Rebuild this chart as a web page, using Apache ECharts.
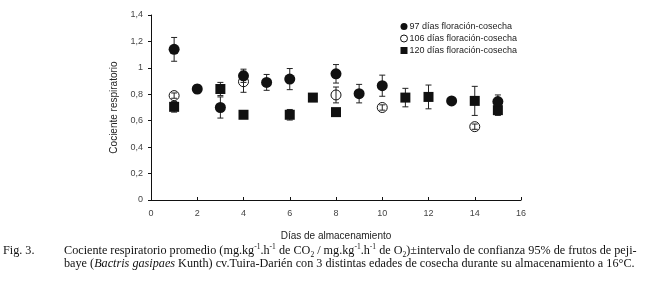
<!DOCTYPE html>
<html>
<head>
<meta charset="utf-8">
<script src="https://cdn.jsdelivr.net/npm/echarts@6/dist/echarts.min.js"></script>
<style>
  html, body { margin: 0; padding: 0; background: #fff; }
  #chart { position: absolute; left: 0; top: 0; width: 647px; height: 304px; }
  .cap { position: absolute; font-family: "Liberation Serif", "Times New Roman", serif;
    font-size: 12.2px; color: #111; white-space: nowrap; line-height: 13px; }
  .cap sup, .cap sub { font-size: 7.5px; line-height: 0; }
</style>
</head>
<body>
<div id="chart"></div>
<div class="cap" style="left:3px; top:244px;">Fig. 3.</div>
<div class="cap" style="left:64px; top:244px;">Cociente respiratorio promedio (mg.kg<sup>-1</sup>.h<sup>-1</sup> de CO<sub>2</sub> / mg.kg<sup>-1</sup>.h<sup>-1</sup> de O<sub>2</sub>)±intervalo de confianza 95% de frutos de peji-<br>baye (<i>Bactris gasipaes</i> Kunth) cv.Tuira-Darién con 3 distintas edades de cosecha durante su almacenamiento a 16°C.</div>
<script>
// días de almacenamiento, cociente respiratorio medio e intervalo de confianza (±)
const names = ['97 días floración-cosecha', '106 días floración-cosecha', '120 días floración-cosecha'];

const days97 = [1, 2, 3, 4, 5, 6, 8, 9, 10, 13, 15];
const rq97   = [1.14, 0.84, 0.70, 0.94, 0.89, 0.915, 0.955, 0.805, 0.865, 0.75, 0.745];
const ci97   = [0.09, 0.03, 0.08, 0.05, 0.06, 0.08, 0.07, 0.07, 0.08, 0, 0.05];

const days106 = [1, 4, 8, 10, 14];
const rq106   = [0.79, 0.895, 0.795, 0.70, 0.555];
const ci106   = [0.02, 0.08, 0.06, 0.02, 0.02];

const days120 = [1, 3, 4, 6, 7, 8, 11, 12, 14, 15];
const rq120   = [0.705, 0.84, 0.645, 0.645, 0.775, 0.665, 0.775, 0.78, 0.75, 0.68];
const ci120   = [0.04, 0.05, 0, 0.04, 0.03, 0, 0.07, 0.09, 0.11, 0.04];

const ink = '#111';
const chart = echarts.init(document.getElementById('chart'));

const pts = (d, v, e) => d.map((x, i) => [x, v[i], e[i]]);

function errBars(params, api) {
  const x = api.value(0), y = api.value(1), e = api.value(2);
  if (!e) return;
  const hi = api.coord([x, y + e]), lo = api.coord([x, y - e]);
  const st = { stroke: '#222', lineWidth: 1 };
  return {
    type: 'group',
    children: [
      { type: 'line', shape: { x1: hi[0], y1: hi[1], x2: lo[0], y2: lo[1] }, style: st },
      { type: 'line', shape: { x1: hi[0] - 3, y1: hi[1], x2: hi[0] + 3, y2: hi[1] }, style: st },
      { type: 'line', shape: { x1: lo[0] - 3, y1: lo[1], x2: lo[0] + 3, y2: lo[1] }, style: st },
    ],
  };
}

const series = [];
[[days97, rq97, ci97], [days106, rq106, ci106], [days120, rq120, ci120]].forEach(s => {
  series.push({ type: 'custom', renderItem: errBars, data: pts(...s), z: 1, silent: true });
});
series.push(
  { name: names[0], type: 'scatter', symbol: 'circle', symbolSize: 11, z: 3,
    itemStyle: { color: ink, opacity: 1 }, data: pts(days97, rq97, ci97) },
  { name: names[1], type: 'scatter', symbol: 'circle', symbolSize: 10, z: 4,
    itemStyle: { color: 'rgba(0,0,0,0)', borderColor: ink, borderWidth: 1, opacity: 1 }, data: pts(days106, rq106, ci106) },
  { name: names[2], type: 'scatter', symbol: 'rect', symbolSize: 10, z: 2,
    itemStyle: { color: ink, opacity: 1 }, data: pts(days120, rq120, ci120) },
);

chart.setOption({
  animation: false,
  grid: { left: 151, right: 126, top: 15, bottom: 104 },
  legend: {
    left: 395, top: 17, orient: 'vertical', itemGap: 3, itemWidth: 7, itemHeight: 7,
    textStyle: { fontFamily: 'Liberation Sans', fontSize: 9, color: '#222', padding: [0, 0, 0, -3] },
    data: [
      { name: names[0], icon: 'circle', itemStyle: { color: ink, opacity: 1 } },
      { name: names[1], icon: 'circle', itemStyle: { color: '#fff', borderColor: ink, borderWidth: 1, opacity: 1 } },
      { name: names[2], icon: 'rect', itemStyle: { color: ink, opacity: 1 } },
    ],
  },
  xAxis: {
    type: 'value', min: 0, max: 16, interval: 2,
    name: 'Días de almacenamiento', nameLocation: 'middle', nameGap: 31,
    nameTextStyle: { fontFamily: 'Liberation Sans', fontSize: 10, color: '#222' },
    axisLine: { lineStyle: { color: '#111' } },
    axisTick: { inside: true, length: 3, lineStyle: { color: '#111' } },
    axisLabel: { fontFamily: 'Liberation Sans', fontSize: 9, color: '#444', margin: 9 },
    splitLine: { show: false },
  },
  yAxis: {
    type: 'value', min: 0, max: 1.4, interval: 0.2,
    name: 'Cociente respiratorio', nameLocation: 'middle', nameGap: 30,
    nameTextStyle: { fontFamily: 'Liberation Sans', fontSize: 10, color: '#222' },
    axisLine: { show: true, lineStyle: { color: '#111' } },
    axisTick: { show: true, length: 3, lineStyle: { color: '#111' } },
    axisLabel: { fontFamily: 'Liberation Sans', fontSize: 9, color: '#444', margin: 8,
      formatter: v => String(+v.toFixed(1)).replace('.', ',') },
    splitLine: { show: false },
  },
  series,
});
</script>
</body>
</html>
